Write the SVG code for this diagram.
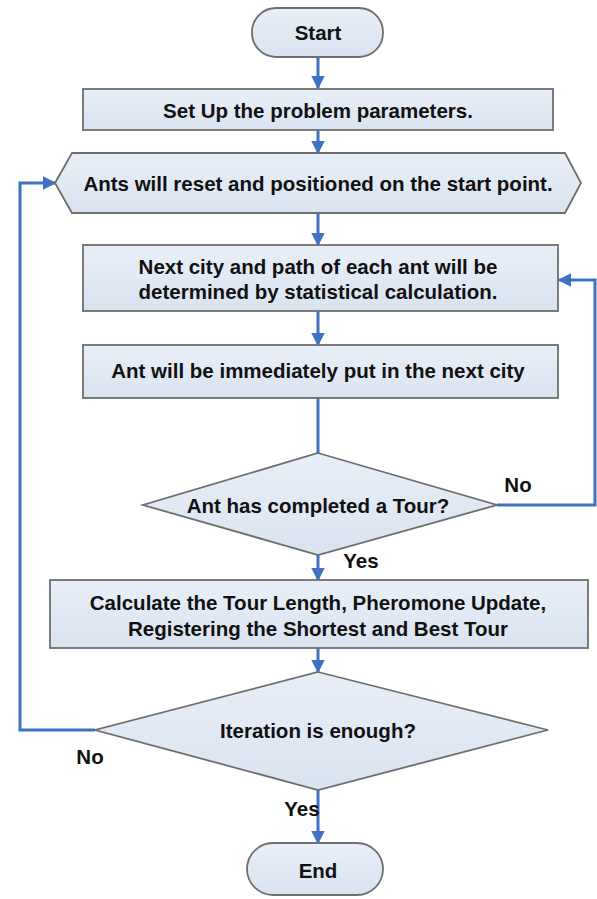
<svg xmlns="http://www.w3.org/2000/svg" width="597" height="899" viewBox="0 0 597 899">
<style>
.n{fill:url(#g);stroke:#6e6e6e;stroke-width:1.8}
.t{font-family:"Liberation Sans",Arial,sans-serif;font-weight:bold;font-size:20.5px;fill:#111;text-anchor:middle;dominant-baseline:central}
.c{fill:none;stroke:#3f72c5;stroke-width:3}
</style>
<defs>
<linearGradient id="g" x1="0" y1="0" x2="0" y2="1"><stop offset="0" stop-color="#e9eff8"/><stop offset="1" stop-color="#d9e3f0"/></linearGradient>
<marker id="a" viewBox="0 0 10 10" refX="9" refY="5" markerWidth="4.5" markerHeight="4.5" orient="auto" markerUnits="strokeWidth"><path d="M0,0L10,5L0,10z" fill="#3f72c5"/></marker>
</defs>
<rect width="597" height="899" fill="#fff"/>
<g id="connectors">
<path class="c" marker-end="url(#a)" d="M318,57V88"/>
<path class="c" marker-end="url(#a)" d="M318,130V153"/>
<path class="c" marker-end="url(#a)" d="M318,213V245"/>
<path class="c" marker-end="url(#a)" d="M318,311V345"/>
<path class="c" d="M318,398V453"/>
<path class="c" marker-end="url(#a)" d="M497,505H595V280H559"/>
<path class="c" marker-end="url(#a)" d="M318,555V580"/>
<path class="c" marker-end="url(#a)" d="M318,648V672"/>
<path class="c" marker-end="url(#a)" d="M95,730H20V183H55"/>
<path class="c" marker-end="url(#a)" d="M318,790V843"/>
</g>
<g id="start"><rect class="n" x="252" y="8" width="131" height="49" rx="24"/><text class="t" x="318" y="32">Start</text></g>
<g id="setup"><rect class="n" x="83" y="89" width="470" height="41"/><text class="t" x="318" y="110">Set Up the problem parameters.</text></g>
<g id="reset"><polygon class="n" points="55,183 72,153 565,153 581,183 565,213 72,213"/><text class="t" x="318" y="183">Ants will reset and positioned on the start point.</text></g>
<g id="next"><rect class="n" x="83" y="245" width="475" height="66"/><text class="t" x="318" y="266">Next city and path of each ant will be</text><text class="t" x="318" y="291">determined by statistical calculation.</text></g>
<g id="put"><rect class="n" x="83" y="345" width="475" height="53"/><text class="t" x="318" y="370">Ant will be immediately put in the next city</text></g>
<g id="tour"><polygon class="n" points="318,453 497,505 318,555 143,505"/><text class="t" x="318" y="505">Ant has completed a Tour?</text><text class="t" x="518" y="484">No</text><text class="t" x="361" y="560">Yes</text></g>
<g id="calc"><rect class="n" x="50" y="580" width="538" height="68"/><text class="t" x="318" y="602">Calculate the Tour Length, Pheromone Update,</text><text class="t" x="318" y="628">Registering the Shortest and Best Tour</text></g>
<g id="iter"><polygon class="n" points="318,672 548,730 318,790 95,730"/><text class="t" x="318" y="730">Iteration is enough?</text><text class="t" x="90" y="756">No</text><text class="t" x="302" y="808">Yes</text></g>
<g id="end"><rect class="n" x="247" y="843" width="136" height="52" rx="26"/><text class="t" x="318" y="870">End</text></g>
</svg>
